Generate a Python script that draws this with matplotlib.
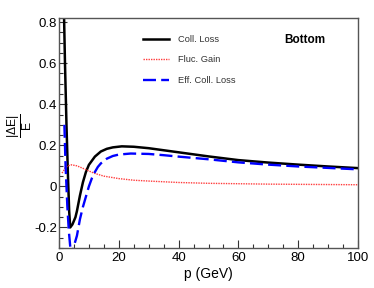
import matplotlib
matplotlib.use("Agg")
import matplotlib.pyplot as plt
from matplotlib.ticker import MultipleLocator, FixedLocator

plt.rcParams['font.family'] = ['Liberation Sans', 'DejaVu Sans']
plt.rcParams['mathtext.fontset'] = 'custom'
plt.rcParams['mathtext.rm'] = 'Liberation Sans'
plt.rcParams['mathtext.it'] = 'Liberation Sans'

# Data
coll_x = [1.5, 1.7, 2.0, 2.5, 3.0, 3.4, 3.75, 4.5, 5.5, 6.0, 7.0, 8.0, 9.0, 10.0,
          12.0, 14.0, 16.0, 18.0, 21.0, 25.0, 30.0, 35.0, 40.0, 50.0, 60.0,
          70.0, 80.0, 90.0, 100.0]
coll_y = [0.95, 0.82, 0.6, 0.3, 0.05, -0.12, -0.2, -0.185, -0.15, -0.12, -0.045,
          0.02, 0.07, 0.105, 0.145, 0.17, 0.183, 0.19, 0.195, 0.193, 0.186,
          0.176, 0.166, 0.146, 0.128, 0.116, 0.106, 0.097, 0.089]

fluc_x = [1.0, 1.5, 2.0, 3.0, 4.2, 6.0, 8.0, 10.0, 12.0, 15.0, 20.0, 25.0, 30.0,
          40.0, 50.0, 60.0, 70.0, 80.0, 90.0, 100.0]
fluc_y = [0.065, 0.075, 0.09, 0.1, 0.105, 0.1, 0.088, 0.075, 0.063, 0.05, 0.038,
          0.03, 0.026, 0.019, 0.015, 0.013, 0.011, 0.01, 0.009, 0.008]

eff_x = [1.8, 2.2, 2.8, 3.3, 3.8, 4.3, 5.0, 6.0, 7.0, 8.0, 9.0, 10.0, 11.0, 12.0,
         13.0, 14.0, 16.0, 18.0, 20.0, 24.0, 30.0, 35.0, 40.0, 50.0, 60.0,
         70.0, 80.0, 90.0, 100.0]
eff_y = [0.3, 0.1, -0.1, -0.22, -0.3, -0.34, -0.29, -0.24, -0.16, -0.1, -0.05,
         0.0, 0.04, 0.07, 0.095, 0.112, 0.135, 0.148, 0.155, 0.16, 0.158, 0.152,
         0.145, 0.132, 0.117, 0.106, 0.097, 0.09, 0.083]

labels = ["Coll. Loss", "Fluc. Gain", "Eff. Coll. Loss"]
ytick_vals = [-0.2, 0, 0.2, 0.4, 0.6, 0.8]
ytick_labels = ["-0.2", "0", "0.2", "0.4", "0.6", "0.8"]
xtick_vals = [0, 20, 40, 60, 80, 100]
xtick_labels = ["0", "20", "40", "60", "80", "100"]

fig = plt.figure(figsize=(3.74, 2.88), dpi=100)
ax = fig.add_axes([59/374, 1-248/288, (358-59)/374, (248-18)/288])

ax.plot(coll_x, coll_y, color='black', lw=1.8, label=labels[0])
ax.plot(fluc_x, fluc_y, color='#ff3b3b', lw=1.0, linestyle=(0, (1, 0.8)), label=labels[1])
ax.plot(eff_x, eff_y, color='#0000ff', lw=1.7, linestyle=(0, (5.5, 2.2)), label=labels[2])

ax.set_xlim(0, 100)
ax.set_ylim(-0.3, 0.82)

ax.xaxis.set_major_locator(FixedLocator(xtick_vals))
ax.set_xticklabels(xtick_labels)
ax.xaxis.set_minor_locator(MultipleLocator(5))
ax.yaxis.set_major_locator(FixedLocator(ytick_vals))
ax.set_yticklabels(ytick_labels)
ax.yaxis.set_minor_locator(MultipleLocator(0.05))

ax.tick_params(which='both', direction='in', colors='#333333', labelcolor='black',
               labelsize=9.5, width=0.8)
ax.tick_params(which='major', length=6)
ax.tick_params(axis='x', which='major', pad=3)
ax.tick_params(axis='y', which='major', pad=1.5)
ax.tick_params(which='minor', length=3)
for s in ax.spines.values():
    s.set_color('#555555')
    s.set_linewidth(1.0)

ax.set_xlabel("p (GeV)", fontsize=10, labelpad=2)
ax.set_ylabel(r"$\mathrm{\frac{|\Delta E|}{E}}$", fontsize=12.5, va='center')
ax.yaxis.set_label_coords(-0.13, 0.53)

leg = ax.legend(loc='upper left', bbox_to_anchor=(0.26, 0.955), frameon=False,
                fontsize=6.7, handlelength=2.8, handletextpad=0.9, labelspacing=1.25,
                borderpad=0.2)
for t in leg.get_texts():
    t.set_color('#333333')

ax.text(0.752, 0.903, "Bottom", transform=ax.transAxes, fontsize=8.5, fontweight='bold',
        ha='left', va='center')

fig.savefig("out.png", dpi=100)
